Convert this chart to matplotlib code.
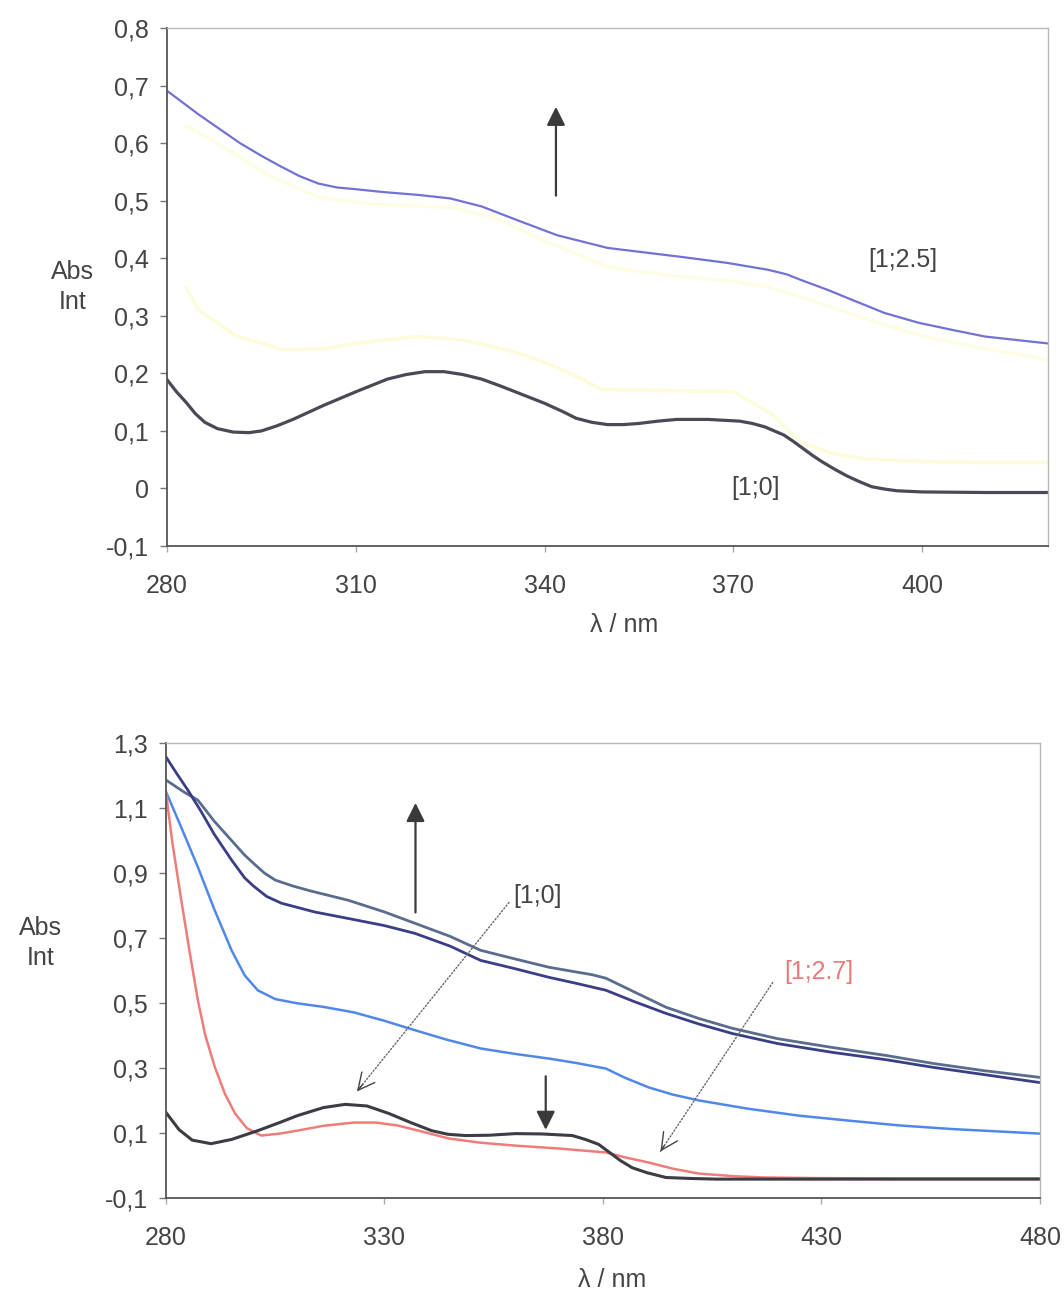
import matplotlib
matplotlib.use("Agg")
import matplotlib.pyplot as plt

plt.rcParams["font.family"] = ["Liberation Sans", "DejaVu Sans"]

# --- top panel: [1;0] -> [1;2.5] ---
top_x_ticks = [280, 310, 340, 370, 400]
top_y_ticks = [-0.1, 0, 0.1, 0.2, 0.3, 0.4, 0.5, 0.6, 0.7, 0.8]
top_y_labels = ["-0,1", "0", "0,1", "0,2", "0,3", "0,4", "0,5", "0,6", "0,7", "0,8"]

top_r0_x = [280, 281.5, 283, 284.5, 286, 288, 290.5, 293, 295, 297.5, 300, 305, 310, 315, 318,
            321, 324, 327, 330, 333, 336.5, 340, 343, 345, 347.5, 350, 352.5, 355, 358, 361,
            366, 371, 373, 375, 376.5, 378, 379.5, 381, 382.5, 384, 386, 388, 390, 392, 394,
            396, 400, 410, 420]
top_r0_y = [0.189, 0.168, 0.15, 0.13, 0.115, 0.104, 0.098, 0.097, 0.1, 0.109, 0.12, 0.145,
            0.168, 0.19, 0.198, 0.203, 0.203, 0.198, 0.19, 0.178, 0.163, 0.148, 0.133, 0.122,
            0.115, 0.111, 0.111, 0.113, 0.117, 0.12, 0.12, 0.117, 0.113, 0.107, 0.1, 0.093,
            0.082, 0.07, 0.058, 0.047, 0.034, 0.022, 0.012, 0.003, -0.001, -0.004, -0.006,
            -0.007, -0.007]

top_r25_x = [280, 285, 291.6, 295, 298, 301, 304, 307, 310, 314.4, 320, 325, 330, 335.7, 342,
             350, 356, 362, 369, 375.5, 378.5, 380.8, 385, 388.8, 394, 399.4, 405, 410, 415, 420]
top_r25_y = [0.691, 0.65, 0.6, 0.578, 0.56, 0.543, 0.53, 0.523, 0.52, 0.515, 0.51, 0.504, 0.49,
             0.466, 0.44, 0.418, 0.41, 0.402, 0.392, 0.38, 0.372, 0.362, 0.345, 0.328, 0.305,
             0.288, 0.275, 0.264, 0.258, 0.252]

# faint intermediate spectra (yellow, barely visible)
top_mid1_x = [283, 288, 296, 304, 312, 320, 325, 332, 340, 350, 360, 370, 375.5, 383, 391.5,
              400, 410, 420]
top_mid1_y = [0.63, 0.6, 0.545, 0.506, 0.495, 0.49, 0.489, 0.47, 0.43, 0.385, 0.37, 0.36, 0.35,
              0.325, 0.293, 0.265, 0.243, 0.224]
top_mid2_x = [283, 285, 291, 298.5, 305, 312, 319.8, 327, 335.7, 341, 346, 349, 360, 370, 376,
              380.8, 386, 391.5, 400, 410, 420]
top_mid2_y = [0.35, 0.31, 0.265, 0.241, 0.243, 0.255, 0.264, 0.258, 0.236, 0.215, 0.19, 0.172,
              0.17, 0.168, 0.13, 0.08, 0.06, 0.051, 0.047, 0.045, 0.045]

# --- bottom panel: [1;0] -> [1;2.7] ---
bot_x_ticks = [280, 330, 380, 430, 480]
bot_y_ticks = [-0.1, 0.1, 0.3, 0.5, 0.7, 0.9, 1.1, 1.3]
bot_y_labels = ["-0,1", "0,1", "0,3", "0,5", "0,7", "0,9", "1,1", "1,3"]

bot_navy_x = [280, 282.5, 285, 288, 291, 295, 298, 300, 303, 306.4, 314, 321.7, 330, 337, 345,
              352, 360, 367.6, 374, 380.7, 387, 394.4, 402, 409.6, 420, 432.5, 445, 455.5, 467,
              480]
bot_navy_y = [1.257, 1.205, 1.155, 1.09, 1.02, 0.94, 0.885, 0.86, 0.828, 0.807, 0.78, 0.76,
              0.738, 0.714, 0.675, 0.631, 0.605, 0.579, 0.56, 0.539, 0.505, 0.468, 0.435, 0.406,
              0.375, 0.348, 0.325, 0.302, 0.28, 0.255]

bot_grey_x = [280, 284, 287.3, 291, 295, 298, 300, 302.5, 305, 309, 313, 321.7, 330, 337, 345,
              352, 360, 367.6, 374, 377.5, 380.7, 387, 394.4, 402, 409.6, 420, 432.5, 445, 455.5,
              467, 480]
bot_grey_y = [1.186, 1.15, 1.124, 1.06, 1.0, 0.955, 0.93, 0.9, 0.878, 0.86, 0.845, 0.816, 0.78,
              0.745, 0.705, 0.662, 0.635, 0.61, 0.595, 0.587, 0.576, 0.535, 0.487, 0.452, 0.422,
              0.39, 0.363, 0.338, 0.314, 0.292, 0.271]

bot_blue_x = [280, 283.5, 287.3, 291, 295, 298, 301, 305, 310, 316, 323, 330, 337, 344, 352,
              360, 367.6, 374, 380.7, 385, 390.5, 396, 402, 413, 425, 437, 448, 460, 470, 480]
bot_blue_y = [1.15, 1.04, 0.918, 0.79, 0.662, 0.585, 0.539, 0.512, 0.499, 0.488, 0.471, 0.445,
              0.416, 0.388, 0.36, 0.343, 0.329, 0.315, 0.298, 0.27, 0.24, 0.218, 0.2, 0.175,
              0.153, 0.137, 0.123, 0.112, 0.105, 0.098]

bot_r27_x = [280, 281.5, 283.5, 285.5, 287.3, 289, 291.2, 293.5, 295.8, 298.5, 301.8, 306, 310,
             316, 323, 328, 333, 339, 344.7, 352, 360, 370, 380.7, 385, 390.5, 396, 402, 410,
             417, 430, 450, 480]
bot_r27_y = [1.146, 0.99, 0.816, 0.65, 0.508, 0.4, 0.302, 0.22, 0.16, 0.115, 0.092, 0.098,
             0.107, 0.122, 0.132, 0.132, 0.123, 0.103, 0.083, 0.07, 0.061, 0.052, 0.04, 0.025,
             0.009, -0.01, -0.025, -0.033, -0.037, -0.039, -0.04, -0.04]

bot_r0_x = [280, 283, 286, 290.3, 295, 301, 306, 310, 316, 321, 326, 331, 336, 340.8, 344.5,
            348.5, 354, 360, 366, 373, 376, 379, 381, 384, 386.7, 390, 394.4, 400, 406, 420,
            440, 460, 480]
bot_r0_y = [0.163, 0.11, 0.078, 0.067, 0.08, 0.107, 0.132, 0.153, 0.178, 0.188, 0.183, 0.16,
            0.132, 0.107, 0.096, 0.092, 0.093, 0.098, 0.097, 0.092, 0.08, 0.065, 0.045, 0.015,
            -0.007, -0.022, -0.037, -0.04, -0.042, -0.042, -0.042, -0.042, -0.042]

TXT = "#444444"
FS = 18


def style_axes(ax, xlim, ylim, xticks, yticks, ylabels):
    ax.set_xlim(*xlim)
    ax.set_ylim(*ylim)
    ax.set_xticks(xticks)
    ax.set_xticklabels([str(t) for t in xticks])
    ax.set_yticks(yticks)
    ax.set_yticklabels(ylabels)
    for side in ("left", "bottom"):
        ax.spines[side].set_color("#555555")
        ax.spines[side].set_linewidth(1.3)
    for side in ("top", "right"):
        ax.spines[side].set_color("#b8b8b8")
        ax.spines[side].set_linewidth(1.0)
    ax.tick_params(axis="y", direction="out", length=5, width=1, color="#777777",
                   labelsize=FS, labelcolor=TXT, pad=8)
    ax.tick_params(axis="x", direction="out", length=4, width=1, color="#aaaaaa",
                   labelsize=FS, labelcolor=TXT, pad=16)


fig = plt.figure(figsize=(10.64, 12.93), dpi=100)
ax1 = fig.add_axes([0.157, 0.5777, 0.828, 0.4006])
ax2 = fig.add_axes([0.156, 0.0735, 0.8214, 0.3519])

# top panel
ax1.plot(top_mid1_x, top_mid1_y, color="#fdfde4", lw=2.5, solid_capstyle="round")
ax1.plot(top_mid2_x, top_mid2_y, color="#fcfcda", lw=2.5, solid_capstyle="round")
ax1.plot(top_r25_x, top_r25_y, color="#7272d6", lw=1.6)
ax1.plot(top_r0_x, top_r0_y, color="#4a4a56", lw=2.3)
style_axes(ax1, (280, 420), (-0.1, 0.8), top_x_ticks, top_y_ticks, top_y_labels)

ax1.annotate("", xy=(341.8, 0.668), xytext=(341.8, 0.504),
             arrowprops=dict(arrowstyle="-|>", color="#3a3a3a", lw=1.6, mutation_scale=28))
ax1.text(397, 0.397, "[1;2.5]", fontsize=FS, color=TXT, ha="center", va="center")
ax1.text(373.5, 0.0, "[1;0]", fontsize=FS, color=TXT, ha="center", va="center")
ax1.text(-0.107, 0.5, "Abs\nInt", transform=ax1.transAxes, fontsize=FS, color=TXT,
         ha="center", va="center", linespacing=1.3)
ax1.text(0.519, -0.152, "λ / nm", transform=ax1.transAxes, fontsize=FS, color=TXT,
         ha="center", va="center")

# bottom panel
ax2.plot(bot_grey_x, bot_grey_y, color="#5a6d8e", lw=2.0)
ax2.plot(bot_navy_x, bot_navy_y, color="#3b3e86", lw=2.0)
ax2.plot(bot_blue_x, bot_blue_y, color="#4f88ea", lw=1.8)
ax2.plot(bot_r27_x, bot_r27_y, color="#f07c7a", lw=1.8)
ax2.plot(bot_r0_x, bot_r0_y, color="#3c3c44", lw=2.2)
style_axes(ax2, (280, 480), (-0.1, 1.3), bot_x_ticks, bot_y_ticks, bot_y_labels)

ax2.annotate("", xy=(337.1, 1.124), xytext=(337.1, 0.77),
             arrowprops=dict(arrowstyle="-|>", color="#3a3a3a", lw=1.6, mutation_scale=28))
ax2.annotate("", xy=(366.9, 0.101), xytext=(366.9, 0.283),
             arrowprops=dict(arrowstyle="-|>", color="#3a3a3a", lw=1.6, mutation_scale=28))

# dotted pointers with open heads
pointers = [((358.9, 0.816), (323.3, 0.221)), ((419.2, 0.57), (392.8, 0.036))]
for (x0, y0), (x1, y1) in pointers:
    ax2.annotate("", xy=(x1, y1), xytext=(x0, y0),
                 arrowprops=dict(arrowstyle="-", color="#666666", lw=1.0, ls=(0, (1, 1.5))))
    hx = x1 + (x0 - x1) * 0.06
    hy = y1 + (y0 - y1) * 0.06
    ax2.annotate("", xy=(x1, y1), xytext=(hx, hy),
                 arrowprops=dict(arrowstyle="->", color="#444444", lw=1.0, mutation_scale=30))

ax2.text(359.5, 0.83, "[1;0]", fontsize=FS, color=TXT, ha="left", va="center")
ax2.text(429.5, 0.594, "[1;2.7]", fontsize=FS, color="#e87a7a", ha="center", va="center")
ax2.text(-0.144, 0.56, "Abs\nInt", transform=ax2.transAxes, fontsize=FS, color=TXT,
         ha="center", va="center", linespacing=1.3)
ax2.text(0.51, -0.18, "λ / nm", transform=ax2.transAxes, fontsize=FS, color=TXT,
         ha="center", va="center")

fig.savefig("out.png", dpi=100)
